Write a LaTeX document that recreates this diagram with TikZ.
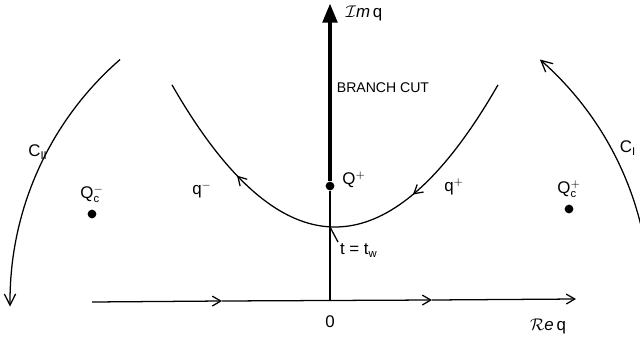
\documentclass[tikz,border=0pt]{standalone}
\usepackage{fontspec}
\setmainfont{Liberation Sans}
\usetikzlibrary{arrows.meta,decorations.markings}

\tikzset{
  barb/.style={-{Straight Barb[length=6pt,width=7pt]}},
  dot/.style={circle,fill,inner sep=2.2pt},
  lbl/.style={inner sep=1pt,font=\large},
  flow/.style={postaction={decorate},decoration={markings,
    mark=at position 0.309 with {\arrow{Straight Barb[length=6pt,width=7pt]}},
    mark=at position 0.752 with {\arrow{Straight Barb[length=6pt,width=7pt]}}}}
}

\begin{document}
\begin{tikzpicture}[x=0.025cm,y=-0.025cm,line width=0.9pt]
\useasboundingbox (0,0) rectangle (640,337);
% axes
\coordinate (O) at (330,301);
\coordinate (Rl) at (92,302);
\coordinate (R1) at (222,301);
\coordinate (R2) at (432,300);
\coordinate (Rr) at (576,299);
\coordinate (Itop) at (330,3);
\coordinate (X) at (330,227);
\node[dot] (Qp) at (330,186) {};
\draw[barb] (Rl) -- (R1);
\draw[barb] (R1) -- (R2);
\draw[barb] (R2) -- (Rr);
\draw (O) -- (Qp);
\draw[line width=3.4pt,-{Triangle[length=14pt,width=10pt]}] (Qp) -- (Itop);
\node[lbl] (zero) at (330,322) {0};
\node[lbl] (req) at (548,326) {$\mathcal{R}\mathit{e}\,$q};
\node[lbl] (imq) at (364,13) {$\mathcal{I}\mathit{m}\,$q};
\node[lbl,font=\normalsize] (cut) at (383,88) {BRANCH CUT};
\node[lbl] (Qpl) at (354,180) {Q$^+$};
% contour through the saddle
\draw[flow] plot[domain=-163:163,samples=80] ({335-\x},{227-0.535*(\x/10)*(\x/10)});
\node[lbl] (qm) at (202,190) {q$^-$};
\node[lbl] (qp) at (454,187) {q$^+$};
\node[lbl,anchor=north west] (tw) at (338,242) {t = t$_\mathrm{w}$};
\draw (tw.north west) -- (X);
% poles
\node[dot] (Qcm) at (92,214) {};
\node[lbl,anchor=south] (Qcml) at (92,205) {Q$^{-}_{\mathrm{c}}$};
\node[dot] (Qcp) at (569,209) {};
\node[lbl,anchor=south] (Qcpl) at (569,200) {Q$^{+}_{\mathrm{c}}$};
% large arcs
\draw[-{Straight Barb[length=8pt,width=8pt]}] plot[domain=131:181,samples=40] ({330+320*cos(\x)},{301-320*sin(\x)});
\draw[-{Straight Barb[length=8pt,width=8pt]}] plot[domain=12:49,samples=40] ({330+320*cos(\x)},{301-320*sin(\x)});
\node[lbl] (c2) at (38,152) {C$_{\mathrm{II}}$};
\node[lbl] (c1) at (628,148) {C$_{\mathrm{I}}$};
\end{tikzpicture}
\end{document}
